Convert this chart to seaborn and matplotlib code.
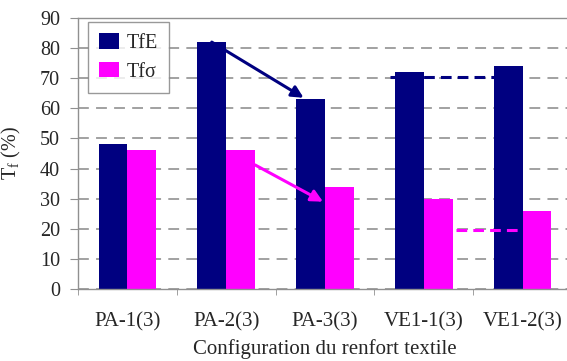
import pandas as pd
import matplotlib
matplotlib.use("Agg")
import matplotlib.pyplot as plt
import seaborn as sns

# Data
configs = ["PA-1(3)", "PA-2(3)", "PA-3(3)", "VE1-1(3)", "VE1-2(3)"]
tf_e = [48, 82, 63, 72, 74]
tf_sigma = [46, 46, 34, 30, 26]
series = ["TfE", "Tf\u03c3"]
yticks = list(range(0, 100, 10))

df = pd.DataFrame({
    "config": configs * 2,
    "value": tf_e + tf_sigma,
    "serie": [series[0]] * len(configs) + [series[1]] * len(configs),
})

navy = "#000080"
magenta = "#ff00ff"

sns.set_style("white")
plt.rcParams["font.family"] = ["Liberation Serif", "DejaVu Serif"]
plt.rcParams["mathtext.fontset"] = "custom"
plt.rcParams["mathtext.rm"] = "Liberation Serif"
plt.rcParams["mathtext.it"] = "Liberation Serif:italic"

fig = plt.figure(figsize=(5.67, 3.61), dpi=100)
ax = fig.add_axes([78 / 567, 1 - 289 / 361, (572 - 78) / 567, (289 - 18) / 361])

sns.barplot(data=df, x="config", y="value", hue="serie", hue_order=series,
            palette=[navy, magenta], saturation=1, width=0.585, gap=0,
            edgecolor="none", linewidth=0, ax=ax, legend=True)

ax.set_xlim(-0.5, 4.5)
ax.set_ylim(0, 90)
ax.set_yticks(yticks)
ax.yaxis.grid(True, linestyle=(0, (6, 4)), color="#9a9a9a", linewidth=1.3)
ax.set_axisbelow(True)

for side in ["left", "bottom", "top"]:
    ax.spines[side].set_color("#909090")
    ax.spines[side].set_linewidth(1.0)
ax.spines["right"].set_visible(False)

ax.tick_params(axis="y", direction="out", length=6, color="#909090",
               labelsize=14.5, pad=7, left=True)
ax.set_xticks(range(len(configs)))
ax.set_xticks([i - 0.5 for i in range(len(configs) + 1)], minor=True)
ax.tick_params(axis="x", which="major", length=0, labelsize=15, pad=17)
ax.tick_params(axis="x", which="minor", direction="out", length=4,
               color="#909090", bottom=True)

ax.set_xlabel("Configuration du renfort textile", fontsize=15, labelpad=5)
ax.set_ylabel("T$_\\mathrm{f}$ (%)", fontsize=14.5, labelpad=12)

# Arrows and dashed guides, anchored on the bars
e_bars = ax.containers[0]
s_bars = ax.containers[1]

def center(p):
    return p.get_x() + p.get_width() / 2

ax.annotate("", xy=(center(e_bars[2]) - 0.07, tf_e[2] + 0.5),
            xytext=(center(e_bars[1]), tf_e[1]),
            arrowprops=dict(arrowstyle="-|>,head_length=0.7,head_width=0.35",
                            color=navy, lw=2.2, shrinkA=0, shrinkB=0), zorder=5)
ax.annotate("", xy=(s_bars[2].get_x() - 0.02, tf_sigma[2] - 5),
            xytext=(s_bars[1].get_x() + s_bars[1].get_width(), tf_sigma[1] - 4.8),
            arrowprops=dict(arrowstyle="-|>,head_length=0.7,head_width=0.35",
                            color=magenta, lw=2.2, shrinkA=0, shrinkB=0), zorder=5)

ax.plot([e_bars[3].get_x() - 0.05, e_bars[4].get_x()], [70.3, 70.3],
        color=navy, lw=2.2, linestyle=(0, (3.5, 2)), zorder=4)
ax.plot([s_bars[3].get_x() + s_bars[3].get_width() + 0.03,
         e_bars[4].get_x() + e_bars[4].get_width() - 0.03], [19.5, 19.5],
        color=magenta, lw=2.2, linestyle=(0, (3.5, 2)), zorder=4)

leg = ax.legend(loc="upper left", bbox_to_anchor=(0.02, 0.985), fontsize=14.5,
                frameon=True, fancybox=False, edgecolor="#808080",
                borderaxespad=0, handlelength=1.0, handleheight=0.8,
                handletextpad=0.4, borderpad=0.55, labelspacing=0.45, title=None)
leg.get_frame().set_linewidth(1.0)

fig.savefig("out.png", dpi=100)
